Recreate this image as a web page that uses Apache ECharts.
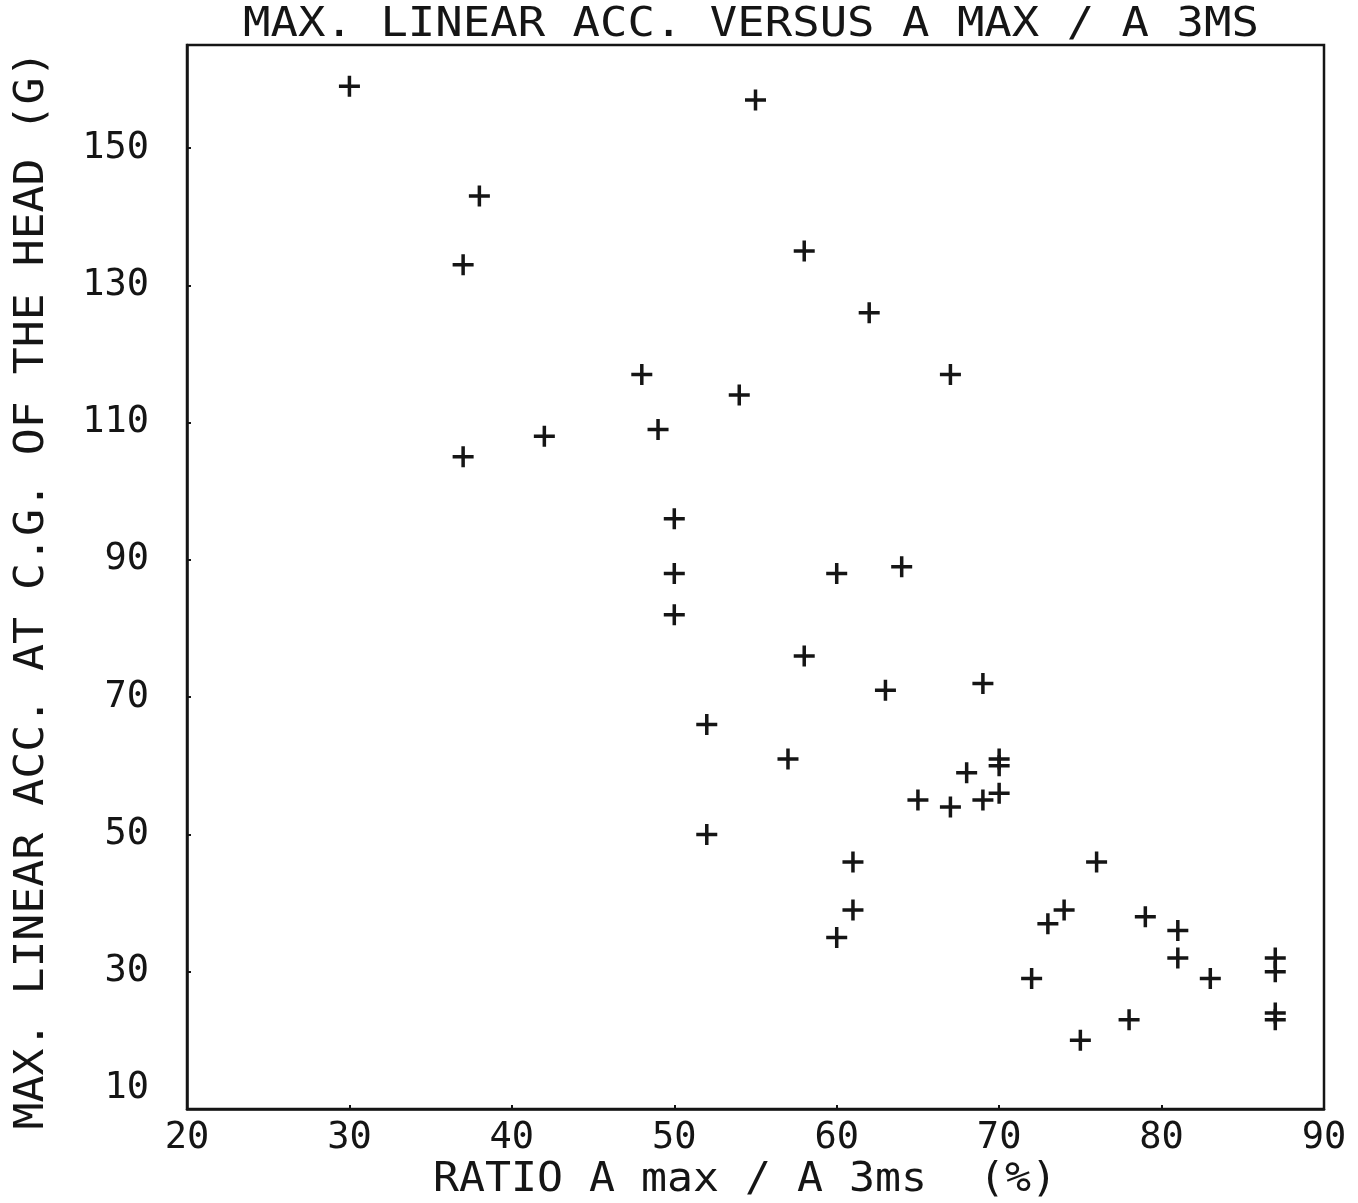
<!DOCTYPE html>
<html>
<head>
<meta charset="utf-8">
<script src="https://cdn.jsdelivr.net/npm/echarts@6/dist/echarts.min.js"></script>
<style>
  html, body { margin: 0; padding: 0; background: #fff; }
  #chart { width: 1358px; height: 1203px; }
</style>
</head>
<body>
<div id="chart"></div>
<script>
// Ratio A max / A 3ms (%) for each test
const ratioPct = [
  30, 55, 38, 37, 58, 62, 48, 67, 54, 42, 49, 37,
  50, 50, 50, 60, 64, 58, 63, 69, 52, 57, 70, 70,
  68, 65, 67, 69, 70, 52, 61, 61, 60, 76, 74, 73,
  79, 81, 81, 72, 83, 87, 87, 87, 87, 78, 75
];
// Max. linear acceleration at the head's C.G. (G), same order
const maxAccG = [
  159, 157, 143, 133, 135, 126, 117, 117, 114, 108, 109, 105,
  96, 88, 82, 88, 89, 76, 71, 72, 66, 61, 61, 60,
  59, 55, 54, 55, 56, 50, 46, 39, 35, 46, 39, 37,
  38, 36, 32, 29, 29, 32, 30, 24, 23, 23, 20
];

const titleText = 'MAX. LINEAR ACC. VERSUS A MAX / A 3MS';
const xName = 'RATIO A max / A 3ms  (%)';
const yName = 'MAX. LINEAR ACC. AT C.G. OF THE HEAD (G)';

const xRange = { min: 20, max: 90, interval: 10 };
const yRange = { min: 10, max: 165, interval: 20 };

const FONT = '"DejaVu Sans Mono", "Liberation Mono", monospace';
const INK = '#151515';

const points = ratioPct.map((x, i) => [x, maxAccG[i]]);

// filled plus sign used as the plotter marker
const plusPath = 'path://M8.75,0h3.5v8.75h8.75v3.5h-8.75v8.75h-3.5v-8.75h-8.75v-3.5h8.75z';

const chart = echarts.init(document.getElementById('chart'), null, { renderer: 'canvas' });

chart.setOption({
  backgroundColor: '#ffffff',
  animation: false,
  grid: {
    left: 187, top: 45, width: 1137, height: 1064,
    show: true, borderColor: INK, borderWidth: 2.5, backgroundColor: 'transparent'
  },
  xAxis: {
    type: 'value',
    min: xRange.min, max: xRange.max, interval: xRange.interval,
    axisLine: { show: true, lineStyle: { color: INK, width: 2.5 } },
    axisTick: { show: true, inside: true, length: 4, lineStyle: { color: INK, width: 2 } },
    splitLine: { show: false },
    axisLabel: { color: INK, fontFamily: FONT, fontSize: 37, margin: 11 }
  },
  yAxis: {
    type: 'value',
    min: yRange.min, max: yRange.max, interval: yRange.interval,
    axisLine: { show: true, lineStyle: { color: INK, width: 2.5 } },
    axisTick: { show: true, inside: true, length: 4, lineStyle: { color: INK, width: 2 } },
    splitLine: { show: false },
    axisLabel: {
      color: INK, fontFamily: FONT, fontSize: 37, margin: 38,
      showMaxLabel: false,
      formatter: v => (v === yRange.min ? '{low|' + v + '}' : String(v)),
      rich: {
        low: { color: INK, fontFamily: FONT, fontSize: 37, padding: [0, 0, 42, 0] }
      }
    }
  },
  series: [{
    type: 'scatter',
    data: points,
    symbol: plusPath,
    symbolSize: 21,
    itemStyle: { color: INK, opacity: 1 },
    emphasis: { disabled: true }
  }],
  graphic: [
    {
      type: 'text', x: 751, y: 26, scaleX: 1.14,
      style: { text: titleText, font: '40px ' + FONT, fill: INK, align: 'center', verticalAlign: 'middle' }
    },
    {
      type: 'text', x: 745, y: 1181, scaleX: 1.08,
      style: { text: xName, font: '40px ' + FONT, fill: INK, align: 'center', verticalAlign: 'middle' }
    },
    {
      type: 'text', x: 33, y: 590, rotation: Math.PI / 2, scaleX: 1.12,
      style: { text: yName, font: '40px ' + FONT, fill: INK, align: 'center', verticalAlign: 'middle' }
    }
  ]
});
</script>
</body>
</html>
